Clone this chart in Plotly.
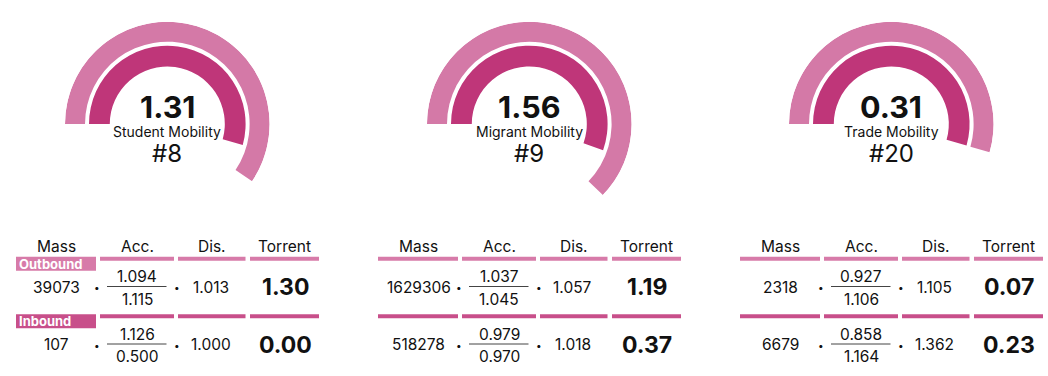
import plotly.graph_objects as go

# ---------------- data ----------------
titles = ["Student Mobility", "Migrant Mobility", "Trade Mobility"]
scores = ["1.31", "1.56", "0.31"]
ranks = ["#8", "#9", "#20"]
outer_arc_deg = [214, 224, 196]      # sweep of the outer (light) arc, degrees
inner_arc_deg = [195.5, 199.5, 196]  # sweep of the inner (dark) arc, degrees

headers = ["Mass", "Acc.", "Dis.", "Torrent"]
row_labels = ["Outbound", "Inbound"]

mass_out = ["39073", "1629306", "2318"]
acc_num_out = ["1.094", "1.037", "0.927"]
acc_den_out = ["1.115", "1.045", "1.106"]
dis_out = ["1.013", "1.057", "1.105"]
torrent_out = ["1.30", "1.19", "0.07"]

mass_in = ["107", "518278", "6679"]
acc_num_in = ["1.126", "0.979", "0.858"]
acc_den_in = ["0.500", "0.970", "1.164"]
dis_in = ["1.000", "1.018", "1.362"]
torrent_in = ["0.00", "0.37", "0.23"]

# ---------------- style / layout ----------------
W, H = 1048, 376
FONT = "Inter"
OUTER_C = "#D479A7"
INNER_C = "#BF3679"
LINE1_C = "#D77BA9"
LINE2_C = "#C84F8A"
TXT = "#111111"

panel_x0 = [16, 378, 740]
gauge_dx = 151.3
gauge_cy = 124
R_OUT = (82.3, 102.3)
R_IN = (57.5, 78.3)

seg = [(0, 80), (84, 158), (162, 229.5), (234, 303)]
hdr_x = [40.5, 121, 196, 268.5]
val_x = [40.5, 121, 194.5, 269]
bullet_x = [81, 160.5]
frac_x = (91, 150.5)

y_hdr = 246
y_line = [(256.7, 260.7), (314.3, 318.3)]
y_val = [287, 344.5]
y_num = [276.7, 334.5]
y_den = [299, 356.7]

fig = go.Figure()
fig.add_trace(go.Scatter(x=[0, W], y=[0, H], mode="markers", marker=dict(opacity=0),
                         hoverinfo="skip", showlegend=False))

annotations = []
shapes = []


def ann(x, y, text, size, color=TXT, weight="normal", xanchor="center", family=FONT):
    annotations.append(dict(x=x, y=y, xref="x", yref="y", text=text, showarrow=False,
                            xanchor=xanchor, yanchor="middle",
                            font=dict(family=family, size=size, color=color, weight=weight)))


for i in range(3):
    x0 = panel_x0[i]
    cx = x0 + gauge_dx
    sub = "polar" if i == 0 else f"polar{i + 1}"
    # gauge arcs
    fig.add_trace(go.Barpolar(r=[R_OUT[1] - R_OUT[0]], base=[R_OUT[0]],
                              theta=[outer_arc_deg[i] / 2], width=[outer_arc_deg[i]],
                              marker=dict(color=OUTER_C, line=dict(width=0)),
                              subplot=sub, hoverinfo="skip", showlegend=False))
    fig.add_trace(go.Barpolar(r=[R_IN[1] - R_IN[0]], base=[R_IN[0]],
                              theta=[inner_arc_deg[i] / 2], width=[inner_arc_deg[i]],
                              marker=dict(color=INNER_C, line=dict(width=0)),
                              subplot=sub, hoverinfo="skip", showlegend=False))
    R = R_OUT[1]
    fig.layout[sub] = dict(
        domain=dict(x=[(cx - R) / W, (cx + R) / W],
                    y=[(H - gauge_cy - R) / H, (H - gauge_cy + R) / H]),
        bgcolor="rgba(0,0,0,0)",
        radialaxis=dict(visible=False, range=[0, R]),
        angularaxis=dict(visible=False, rotation=180, direction="clockwise"),
    )
    ann(cx, 106, scores[i], 30.5, weight="bold")
    ann(cx, 131.5, titles[i], 14)
    ann(cx, 153, ranks[i], 24)

    # table headers
    for k, h in enumerate(headers):
        ann(x0 + hdr_x[k], y_hdr, h, 15.5)

    # table rule lines
    for r in range(2):
        ya, yb = y_line[r]
        col = LINE1_C if r == 0 else LINE2_C
        for k, (sa, sb) in enumerate(seg):
            if i == 0 and k == 0:
                shapes.append(dict(type="rect", xref="x", yref="y", x0=x0 + sa, x1=x0 + sb,
                                   y0=ya, y1=ya + 14, fillcolor=col, line=dict(width=0)))
                ann(x0 + 0.5, ya + 7, row_labels[r], 13, color="white", weight="bold", xanchor="left")
            else:
                shapes.append(dict(type="rect", xref="x", yref="y", x0=x0 + sa, x1=x0 + sb,
                                   y0=ya, y1=yb, fillcolor=col, line=dict(width=0)))

    rows = [(mass_out, acc_num_out, acc_den_out, dis_out, torrent_out),
            (mass_in, acc_num_in, acc_den_in, dis_in, torrent_in)]
    for r, (m, an, ad, d, t) in enumerate(rows):
        yv = y_val[r]
        ann(x0 + val_x[0], yv, m[i], 15.5)
        ann(x0 + bullet_x[0], yv, "•", 10)
        ann(x0 + bullet_x[1], yv, "•", 10)
        ann(x0 + val_x[1], y_num[r], an[i], 15.5)
        ann(x0 + val_x[1], y_den[r], ad[i], 15.5)
        shapes.append(dict(type="line", xref="x", yref="y", x0=x0 + frac_x[0], x1=x0 + frac_x[1],
                           y0=yv - 0.5, y1=yv - 0.5, line=dict(color="#444444", width=1)))
        ann(x0 + val_x[2], yv, d[i], 15.5)
        ann(x0 + val_x[3], yv, t[i], 23, weight="bold")

fig.update_layout(
    width=W, height=H,
    margin=dict(l=0, r=0, t=0, b=0),
    paper_bgcolor="white", plot_bgcolor="rgba(0,0,0,0)",
    xaxis=dict(range=[0, W], visible=False, domain=[0, 1], fixedrange=True),
    yaxis=dict(range=[H, 0], visible=False, domain=[0, 1], fixedrange=True),
    annotations=annotations, shapes=shapes, showlegend=False,
)

fig.write_html("out.html", config={"displayModeBar": False},
               post_script="document.body.style.margin='0px';")
